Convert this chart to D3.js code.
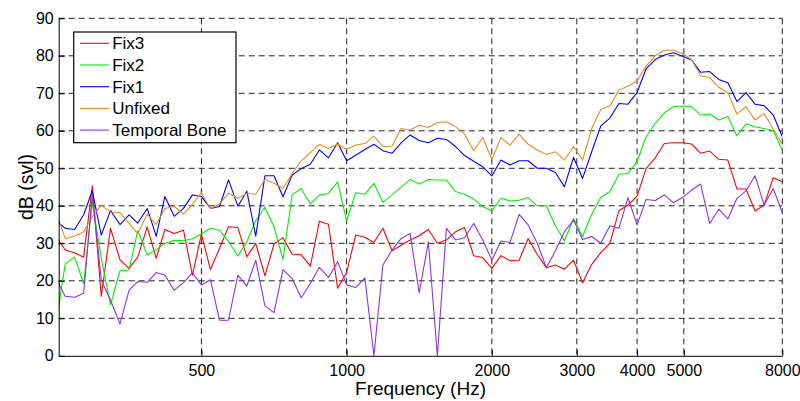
<!DOCTYPE html>
<html>
<head>
<meta charset="utf-8">
<script src="https://cdn.jsdelivr.net/npm/d3@7"></script>
<style>
  body { margin: 0; background: #fff; }
  text { font-family: 'Liberation Sans', Arial, sans-serif; fill: #000; }
</style>
</head>
<body>
<svg id="svg_response"></svg>
<script>
// 1/16 octave band centres (Hz)
const freqs = [
  250, 261, 273, 285, 297, 310, 324, 339, 354, 369, 386, 403, 420, 439, 459, 479,
  500, 522, 545, 569, 595, 621, 648, 677, 707, 738, 771, 805, 841, 878, 917, 958,
  1000, 1044, 1091, 1139, 1189, 1242, 1297, 1354, 1414, 1477, 1542, 1610, 1682, 1756, 1834, 1915,
  2000, 2089, 2181, 2278, 2378, 2484, 2594, 2709, 2828, 2954, 3084, 3221, 3364, 3513, 3668, 3830,
  4000, 4177, 4362, 4555, 4757, 4967, 5187, 5417, 5657, 5907, 6169, 6442, 6727, 7025, 7336, 7661,
  8000
];

const fix3 = [
  31.9, 28.2, 27.5, 26.3, 45.3, 15.8, 34, 25.6, 23.3, 26.3, 34.4, 26, 33.7, 32.6,
  33.5, 21.5, 32.5, 23, 28.6, 34.4, 34.2, 26.4, 30, 21.3, 29.8, 31.5, 27.1, 27,
  23.9, 35.9, 35.1, 18, 22.2, 32.2, 31.6, 30.2, 34, 28, 29.5, 30.9, 32,
  33.7, 30, 30.9, 33.1, 34.2, 26.7, 26.2, 23.3, 26.7, 25.4, 25.5, 31.3, 27,
  23.5, 24.2, 23.1, 25.5, 19.5, 24.4, 27.5, 30, 38.7, 40.2, 42.6, 50, 52.8,
  56.6, 56.8, 56.8, 56.5, 54, 54.6, 52.4, 52.2, 44.5, 44.5, 38.6, 40.2, 47.5, 46.4
];

const fix2 = [
  9, 24.5, 26.3, 19.2, 41.1, 26, 13.6, 22.7, 22.9, 33.4, 26.9, 28.3, 30, 30.8,
  30.7, 31.2, 32.5, 34, 33.5, 30.5, 26.6, 30.4, 36, 39.6, 34.4, 25.7, 42.9, 44.6,
  40.5, 42.9, 43.3, 46.4, 36, 43.5, 43.1, 46, 40.9, 42.9, 45, 47, 45.8,
  47, 46.9, 46.9, 43.8, 43.1, 41.8, 39.8, 38.6, 42, 41.3, 41.5, 42.2, 40,
  40, 34.7, 30.7, 36.6, 31.8, 37.7, 42.2, 43.8, 48.4, 48.6, 51.8, 58.4, 62,
  64.8, 66.4, 66.6, 66.4, 64.2, 64.5, 62.9, 63.8, 58.7, 61.8, 61.1, 60.6, 60, 54.9
];

const fix1 = [
  36, 34, 33.7, 37.6, 44, 32.2, 38.7, 35, 37.6, 35.4, 39.3, 31.9, 42.5, 37.2,
  39.3, 42.9, 42.5, 39.3, 39.8, 46.9, 39.9, 43.9, 31.9, 48, 48, 42.4, 48.2, 49.9,
  51.1, 54.9, 52.8, 56.8, 52, 53.5, 55, 56.4, 54.7, 54, 56.8, 58.9, 57.4,
  56.8, 58, 57.7, 55.8, 53.4, 51.9, 50.4, 48, 52.2, 50.9, 52, 52, 50,
  50, 48.9, 45.1, 52.9, 47.3, 54.4, 61.3, 63.4, 67.3, 67.1, 70.2, 76.6, 79,
  80.2, 80.8, 79.9, 78.9, 75.6, 75.8, 73.7, 72.8, 67.8, 70.2, 67.1, 66.7, 64.2, 58.4
];

const unfixed = [
  38, 31.3, 31.9, 33.1, 37.1, 40.1, 38.3, 38.2, 35.3, 32.6, 37.8, 35, 39.3, 39.8,
  37.8, 40.4, 43.5, 39.2, 40.5, 43.4, 42, 43.3, 43.1, 47, 46, 44.6, 48.6, 52,
  54.2, 56.4, 55.3, 56.5, 55, 56.2, 56.6, 58.6, 55.8, 55.9, 60.6, 60.2, 61.5,
  60.9, 62.2, 62.4, 61.1, 59.1, 54.7, 58.2, 52.4, 58.2, 56.2, 59.1, 56.4, 54.9,
  53.7, 54.4, 52.2, 55.8, 52.2, 60.6, 65.7, 66.6, 70.9, 71.9, 73.3, 77.3, 80,
  81.5, 81.5, 80.6, 79, 74.7, 74.2, 71.6, 70.2, 64.5, 66.4, 62.9, 64.6, 60.4, 56.5
];

const temporalBone = [
  20.5, 15.9, 15.6, 16.7, 43, 20.2, 14.8, 8.5, 17.5, 19.8, 19.6, 22.2, 21.5, 17.5,
  19.5, 22.1, 18.9, 20.3, 9.5, 9.5, 21.5, 18.6, 25.5, 13.3, 11.5, 23, 20.6, 15.5,
  19.3, 23.6, 20.9, 25.1, 18.9, 18.2, 20.8, 0, 24.2, 28.2, 31.3, 32.6, 16.8,
  30.4, 0, 34, 30.9, 31.5, 35.3, 30.9, 25.5, 30.6, 30.2, 37.7, 34.9, 30,
  23.5, 28, 33.1, 36.2, 31, 31.8, 30, 34.7, 34, 42.2, 34.9, 41.7, 41.4,
  42.9, 40.8, 42.2, 44.2, 45.8, 35.3, 39.1, 36.5, 42, 44, 48, 40.2, 44.6, 38.2
];

const seriesNames = ['Fix3', 'Fix2', 'Fix1', 'Unfixed', 'Temporal Bone'];
const seriesValues = [fix3, fix2, fix1, unfixed, temporalBone];
const seriesColors = ['#ff0000', '#00ee00', '#0000ff', '#e68c26', '#8c33e6'];

const xTicks = [500, 1000, 2000, 3000, 4000, 5000, 8000];
const yTicks = [0, 10, 20, 30, 40, 50, 60, 70, 80, 90];

const width = 800;
const height = 401;
const margin = { top: 18.3, right: 17.7, bottom: 45.2, left: 58.7 };
const plotW = width - margin.left - margin.right;
const plotH = height - margin.top - margin.bottom;

const svg = d3.select('#svg_response')
  .attr('width', width)
  .attr('height', height);

const x = d3.scaleLog()
  .domain([253, 8000])
  .range([0, plotW]);

const y = d3.scaleLinear()
  .domain([0, 90])
  .range([plotH, 0]);

const g = svg.append('g')
  .attr('transform', `translate(${margin.left}, ${margin.top})`);

// dashed grid
const grid = g.append('g')
  .attr('stroke', '#222')
  .attr('stroke-width', 1)
  .attr('stroke-dasharray', '6,4')
  .attr('fill', 'none');

grid.selectAll('line.h')
  .data(yTicks.filter((d) => d > 0))
  .enter()
  .append('line')
  .attr('class', 'h')
  .attr('x1', 0)
  .attr('x2', plotW)
  .attr('y1', (d) => y(d))
  .attr('y2', (d) => y(d));

grid.selectAll('line.v')
  .data(xTicks)
  .enter()
  .append('line')
  .attr('class', 'v')
  .attr('x1', (d) => x(d))
  .attr('x2', (d) => x(d))
  .attr('y1', 0)
  .attr('y2', plotH);

// clip so the first band (below the axis start) is cut at the left edge
svg.append('defs')
  .append('clipPath')
  .attr('id', 'plotClip')
  .append('rect')
  .attr('x', 0)
  .attr('y', -5)
  .attr('width', plotW)
  .attr('height', plotH + 10);

const line = d3.line()
  .x((d, i) => x(freqs[i]))
  .y((d) => y(d));

g.append('g')
  .attr('clip-path', 'url(#plotClip)')
  .selectAll('path')
  .data(seriesValues)
  .enter()
  .append('path')
  .attr('d', (d) => line(d))
  .attr('fill', 'none')
  .attr('stroke', (d, i) => seriesColors[i])
  .attr('stroke-width', 1.1)
  .attr('stroke-linejoin', 'round');

// axes, ticks pointing inwards
const xAxis = d3.axisBottom(x)
  .tickValues(xTicks)
  .tickFormat(d3.format('d'))
  .tickSizeInner(-6)
  .tickSizeOuter(0)
  .tickPadding(9);

const yAxis = d3.axisLeft(y)
  .tickValues(yTicks)
  .tickSizeInner(-6)
  .tickSizeOuter(0)
  .tickPadding(5);

const gx = g.append('g')
  .attr('transform', `translate(0, ${plotH})`)
  .call(xAxis);

const gy = g.append('g')
  .call(yAxis);

[gx, gy].forEach((ax) => {
  ax.select('.domain').attr('stroke', '#000').attr('stroke-width', 1);
  ax.selectAll('.tick line').attr('stroke', '#000');
  ax.selectAll('.tick text')
    .style('font-size', '16px')
    .style('font-family', "'Liberation Sans', Arial, sans-serif")
    .attr('fill', '#000');
});

// axis titles
svg.append('text')
  .text('Frequency (Hz)')
  .attr('x', margin.left + plotW / 2)
  .attr('y', 395)
  .attr('text-anchor', 'middle')
  .style('font-size', '19px');

svg.append('text')
  .text('dB (svl)')
  .attr('transform', `translate(33, ${margin.top + plotH / 2}) rotate(-90)`)
  .attr('text-anchor', 'middle')
  .style('font-size', '19.5px');

// legend
const legend = g.append('g')
  .attr('transform', 'translate(15, 13.7)');

legend.append('rect')
  .attr('width', 162.3)
  .attr('height', 110.7)
  .attr('fill', '#fff')
  .attr('stroke', '#000')
  .attr('stroke-width', 1.2);

const items = legend.selectAll('g.item')
  .data(seriesNames)
  .enter()
  .append('g')
  .attr('class', 'item')
  .attr('transform', (d, i) => `translate(0, ${11.3 + i * 21.7})`);

items.append('line')
  .attr('x1', 6.3)
  .attr('x2', 35.3)
  .attr('stroke', (d, i) => seriesColors[i])
  .attr('stroke-width', 1.1);

items.append('text')
  .text((d) => d)
  .attr('x', 38.5)
  .attr('y', 6)
  .style('font-size', '17px');
</script>
</body>
</html>
